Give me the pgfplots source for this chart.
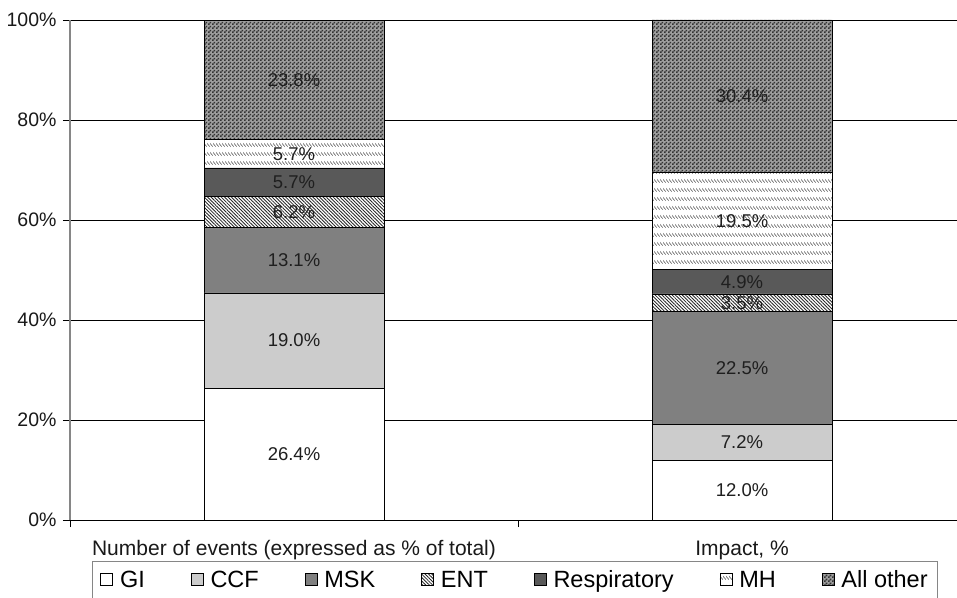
\documentclass[border=0pt]{standalone}
\usepackage{fontspec}
\setmainfont{Liberation Sans}
\usepackage{pgfplots}
\pgfplotsset{compat=1.18}
\usepackage{pgfplotstable}
\usetikzlibrary{patterns,patterns.meta}

\pgfdeclarepatternformonly{mhbands}{\pgfqpoint{0pt}{0pt}}{\pgfqpoint{3pt}{9pt}}{\pgfqpoint{3pt}{9pt}}{%
  \pgfsetlinewidth{0.7pt}%
  \pgfpathmoveto{\pgfqpoint{-0.5pt}{4.5pt}}\pgfpathlineto{\pgfqpoint{3.5pt}{0.5pt}}%
  \pgfusepath{stroke}}
\pgfdeclarepatternformonly{checker}{\pgfqpoint{0pt}{0pt}}{\pgfqpoint{4pt}{4pt}}{\pgfqpoint{4pt}{4pt}}{%
  \pgfpathrectangle{\pgfqpoint{0pt}{0pt}}{\pgfqpoint{2pt}{2pt}}%
  \pgfpathrectangle{\pgfqpoint{2pt}{2pt}}{\pgfqpoint{2pt}{2pt}}%
  \pgfusepath{fill}}

\definecolor{mskgray}{HTML}{808080}
\definecolor{respgray}{HTML}{595959}
\definecolor{axgray}{HTML}{868686}

\pgfplotstableread{
x GI CCF MSK ENT Resp MH Other
0.5 26.4 19.0 13.1 6.2 5.7 5.7 23.8
1.5 12.0 7.2 22.5 3.5 4.9 19.5 30.4
}\data

\pgfplotsset{
  common/.style={
    scale only axis,
    width=896pt, height=500pt,
    xmin=0, xmax=2, ymin=0, ymax=100,
    /pgf/number format/assume math mode=true,
  },
  lbl/.style={draw=none, mark=none, point meta=explicit,
    nodes near coords={\pgfmathprintnumber[fixed,fixed zerofill,precision=1,assume math mode=true]{\pgfplotspointmeta}\%},
    every node near coord/.append style={anchor=center, font=\fontsize{18.5}{20}\selectfont, text=black!88}},
}

\begin{document}
\begin{tikzpicture}
\begin{axis}[
  common,
  ybar stacked, bar width=180pt,
  xtick={0,1,2},
  xticklabels={Number of events (expressed as \% of total), {Impact, \%}, {}},
  x tick label as interval,
  ytick={0,20,40,60,80,100},
  yticklabel={\pgfmathprintnumber{\tick}\%},
  tick align=outside,
  major tick length=7pt,
  tick style={black, line width=0.8pt},
  ymajorgrids,
  grid style={black, line width=0.7pt},
  separate axis lines,
  axis x line*=bottom,
  axis y line*=left,
  every outer x axis line/.append style={-, black, line width=0.8pt},
  every outer y axis line/.append style={-, axgray, line width=1.6pt},
  yticklabel style={font=\fontsize{19.5}{22}\selectfont, text=black!90, xshift=-3pt},
  xticklabel style={font=\fontsize{21}{24}\selectfont, text=black!90, yshift=-10pt},
  legend columns=-1,
  legend image code/.code={\draw[#1,draw=black,line width=0.6pt] (0pt,-6pt) rectangle (12pt,6pt);},
  legend style={at={(0.02455,-0.082)}, anchor=north west, draw=axgray, line width=1pt,
     font=\fontsize{23.5}{27}\selectfont, inner xsep=8pt, inner ysep=7pt,
     /tikz/every even column/.append style={column sep=44pt},
     /tikz/every odd column/.append style={column sep=5pt},
     legend cell align=left},
]
\addplot[draw=black, line width=0.9pt, fill=white] table[x=x,y=GI]{\data};
\addplot[draw=black, line width=0.9pt, preaction={fill=white}, pattern color=black!85, pattern={Dots[distance=2pt,radius=0.62pt]}] table[x=x,y=CCF]{\data};
\addplot[draw=black, line width=0.9pt, fill=mskgray] table[x=x,y=MSK]{\data};
\addplot[draw=black, line width=0.9pt, preaction={fill=white}, pattern color=black!85, pattern={Lines[angle=-45,distance=2.4pt,line width=0.85pt]}] table[x=x,y=ENT]{\data};
\addplot[draw=black, line width=0.9pt, fill=respgray] table[x=x,y=Resp]{\data};
\addplot[draw=black, line width=0.9pt, preaction={fill=white}, pattern color=black!65, pattern=mhbands] table[x=x,y=MH]{\data};
\addplot[draw=black, line width=0.9pt, preaction={fill=black!38}, pattern color=black!80, pattern=checker] table[x=x,y=Other]{\data};
\legend{GI,CCF,MSK,ENT,Respiratory,MH,All other}
\end{axis}
\begin{axis}[common, hide axis]
\addplot[lbl] table[x=x, y expr=\thisrow{GI}/2, meta=GI]{\data};
\addplot[lbl] table[x=x, y expr=\thisrow{GI}+\thisrow{CCF}/2, meta=CCF]{\data};
\addplot[lbl] table[x=x, y expr=\thisrow{GI}+\thisrow{CCF}+\thisrow{MSK}/2, meta=MSK]{\data};
\addplot[lbl] table[x=x, y expr=\thisrow{GI}+\thisrow{CCF}+\thisrow{MSK}+\thisrow{ENT}/2, meta=ENT]{\data};
\addplot[lbl] table[x=x, y expr=\thisrow{GI}+\thisrow{CCF}+\thisrow{MSK}+\thisrow{ENT}+\thisrow{Resp}/2, meta=Resp]{\data};
\addplot[lbl] table[x=x, y expr=\thisrow{GI}+\thisrow{CCF}+\thisrow{MSK}+\thisrow{ENT}+\thisrow{Resp}+\thisrow{MH}/2, meta=MH]{\data};
\addplot[lbl] table[x=x, y expr=\thisrow{GI}+\thisrow{CCF}+\thisrow{MSK}+\thisrow{ENT}+\thisrow{Resp}+\thisrow{MH}+\thisrow{Other}/2, meta=Other]{\data};
\end{axis}
\pgfresetboundingbox
\path (-70pt,-77pt) rectangle (887pt,520pt);
\end{tikzpicture}
\end{document}
